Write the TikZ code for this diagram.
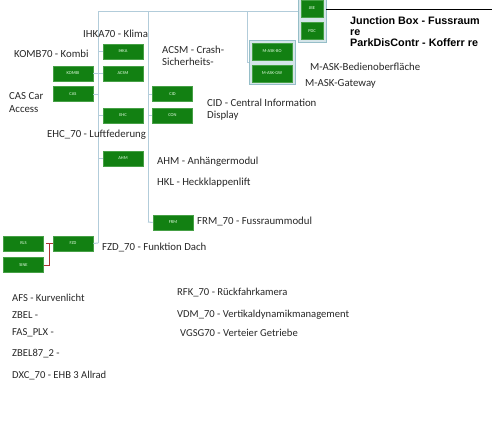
\documentclass[tikz,border=0pt]{standalone}
\usepackage{fontspec}
\setmainfont{Carlito}
\newfontfamily\arialb{Liberation Sans}
\definecolor{boxgreen}{RGB}{18,128,18}
\definecolor{boxedge}{RGB}{70,160,70}
\definecolor{wire}{RGB}{178,204,218}
\definecolor{frameln}{RGB}{150,190,200}
\definecolor{labelc}{RGB}{40,40,40}
\definecolor{redwire}{RGB}{170,50,50}
\begin{document}
\begin{tikzpicture}[x=1pt,y=-1pt,
  ecu/.style={draw=boxedge,line width=0.6pt,fill=boxgreen,minimum width=40pt,minimum height=15pt,inner sep=0pt,text=white!90!green,font=\fontsize{4.5}{4.5}\selectfont},
  ecusm/.style={ecu,minimum width=22pt,minimum height=17pt},
  ecumask/.style={ecu,minimum width=40pt,minimum height=17pt},
  grp/.style={draw=frameln,line width=0.8pt,fill=frameln!40},
  lbl/.style={anchor=west,inner sep=0pt,text=labelc,font=\fontsize{10.8}{11}\selectfont},
  lbl2/.style={anchor=north west,inner sep=0pt,text=labelc,align=left,font=\fontsize{10.8}{12.5}\selectfont},
  bl/.style={anchor=west,inner sep=0pt,text=labelc,font=\fontsize{10.6}{11}\selectfont},
  wireln/.style={draw=wire,line width=1pt},
]
\useasboundingbox (0,0) rectangle (500,434);
\fill[white] (0,0) rectangle (500,434);

% group frames
\node[grp,minimum width=28pt,minimum height=43pt,inner sep=0pt] (jbegrp) at (312,20.5) {};
\node[grp,minimum width=46pt,minimum height=44pt,inner sep=0pt] (maskgrp) at (272,62) {};

% wires
\coordinate (tl) at (98,11);
\coordinate (tm) at (148,11);
\coordinate (tr) at (247,11);
\coordinate (lb) at (98,243);
\coordinate (mb) at (148,222);
\coordinate (rb) at (247,62);
\draw[wireln] (lb) -- (tl) -- (jbegrp.west |- tl);
\draw[wireln] (tm) -- (mb);
\draw[wireln] (tr) -- (rb) -- (maskgrp.west);

% boxes
\node[ecu] (ihka) at (123,51.5) {IHKA};
\node[ecu] (acsm) at (123,73.5) {ACSM};
\node[ecu] (kombi) at (73,73.5) {KOMBI};
\node[ecu] (cas) at (73,94) {CAS};
\node[ecu] (ehc) at (123,115.5) {EHC};
\node[ecu] (cid) at (172.5,94) {CID};
\node[ecu] (con) at (172.5,115.5) {CON};
\node[ecu] (ahm) at (123,158.5) {AHM};
\node[ecu] (frm) at (173,222.5) {FRM};
\node[ecu] (fzd) at (73,243.5) {FZD};
\node[ecu] (rls) at (23.5,243.5) {RLS};
\node[ecu] (sine) at (23.5,265) {SINE};
\node[ecusm] (jbe) at (312,8.5) {JBE};
\node[ecusm] (pdc) at (312,31) {PDC};
\node[ecumask] (maskbo) at (272,51.5) {M-ASK-BO};
\node[ecumask] (maskgw) at (272,73.5) {M-ASK-GW};

% stubs
\draw[wireln] (kombi.east) -- (kombi.east -| tl);
\draw[wireln] (cas.east) -- (cas.east -| tl);
\draw[wireln] (ihka.west) -- (ihka.west -| tl);
\draw[wireln] (acsm.west) -- (acsm.west -| tl);
\draw[wireln] (ehc.west) -- (ehc.west -| tl);
\draw[wireln] (ahm.west) -- (ahm.west -| tl);
\draw[wireln] (lb) -- (fzd.east);
\draw[wireln] (cid.west) -- (cid.west -| tm);
\draw[wireln] (con.west) -- (con.west -| tm);
\draw[wireln] (mb) -- (frm.west);

% red connector
\coordinate (rj) at (49,243.5);
\draw[redwire,line width=1pt] (fzd.west) -- (rj) -- (rj |- sine.east) -- (sine.east);
\draw[redwire,line width=1pt] (rj) -- ++(-3,0);

% black line
\coordinate (blk) at (492,9);
\draw[black,line width=1pt] (jbegrp.east |- blk) -- (blk);

% labels
\node[lbl] (l1) at (83,34) {IHKA70 - Klima};
\node[lbl] (l2) at (14,54) {KOMB70 - Kombi};
\node[lbl2] (l3) at (162,45.5) {ACSM - Crash-\\Sicherheits-};
\node[lbl2] (l4) at (9,92.5) {CAS Car\\Access};
\node[lbl2] (l5) at (207,98.5) {CID - Central Information\\Display};
\node[lbl] (l6) at (47,135) {EHC\_70 - Luftfederung};
\node[lbl] (l7) at (157,162) {AHM - Anhängermodul};
\node[lbl] (l8) at (157,183) {HKL - Heckklappenlift};
\node[lbl] (l9) at (197,221.5) {FRM\_70 - Fussraummodul};
\node[lbl] (l10) at (102,247) {FZD\_70 - Funktion Dach};
\node[lbl] (l11) at (310,67) {M-ASK-Bedienoberfläche};
\node[lbl] (l12) at (305,84) {M-ASK-Gateway};
\node[anchor=north west,inner sep=0pt,align=left,font=\arialb\bfseries\fontsize{10.8}{11}\selectfont] (l13) at (350,16) {Junction Box - Fussraum\\re\\ParkDisContr - Kofferr re};

\node[bl] (b1) at (12,298) {AFS - Kurvenlicht};
\node[bl] (b2) at (12,315) {ZBEL -};
\node[bl] (b3) at (12,333) {FAS\_PLX -};
\node[bl] (b4) at (12,354) {ZBEL87\_2 -};
\node[bl] (b5) at (12,376) {DXC\_70 - EHB 3 Allrad};
\node[bl] (b6) at (177,293) {RFK\_70 - Rückfahrkamera};
\node[bl] (b7) at (177,315) {VDM\_70 - Vertikaldynamikmanagement};
\node[bl] (b8) at (180,333) {VGSG70 - Verteier Getriebe};
\end{tikzpicture}
\end{document}
